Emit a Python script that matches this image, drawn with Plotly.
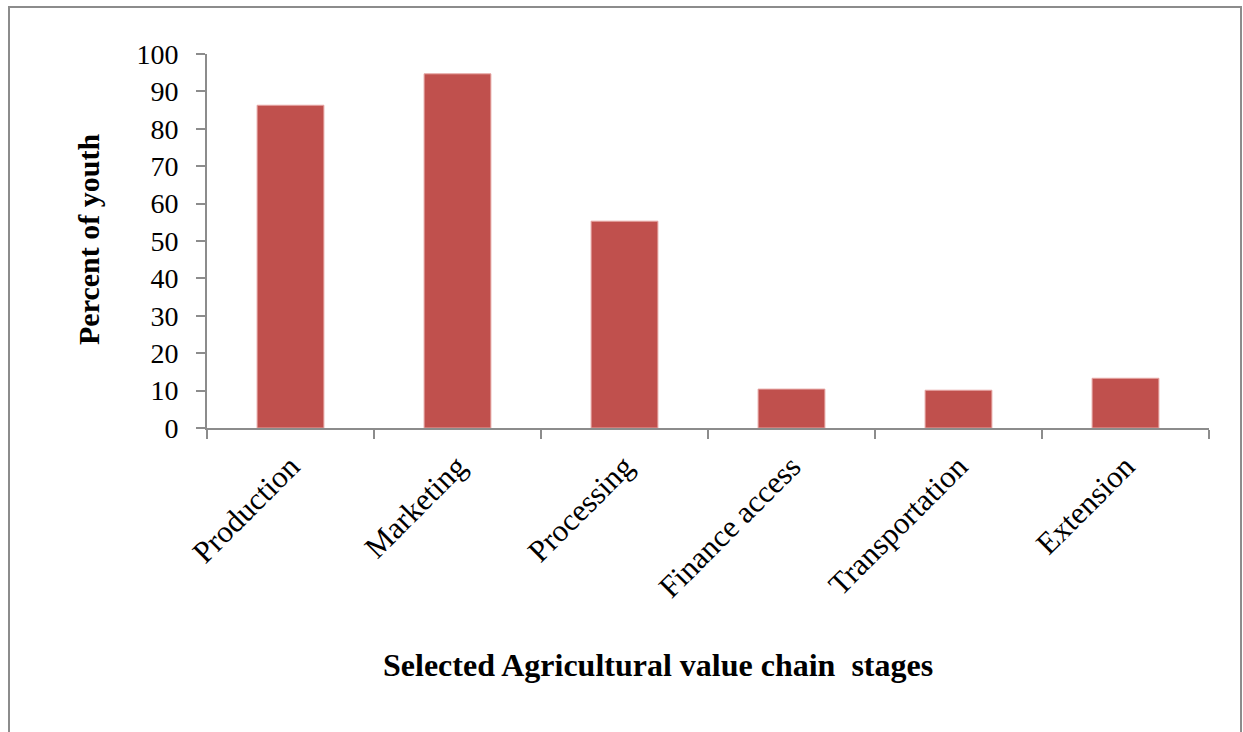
import plotly.graph_objects as go

# Share of youth engaged at each stage of the agricultural value chain
stages = ["Production", "Marketing", "Processing", "Finance access",
          "Transportation", "Extension"]
percent_youth = [86.3, 94.7, 55.3, 10.4, 10.1, 13.3]
y_ticks = [0, 10, 20, 30, 40, 50, 60, 70, 80, 90, 100]

W, H = 1243, 732
L, R, T, B = 207, 34, 54, 304
pw, ph = W - L - R, H - T - B


def px_x(p):
    return (p - L) / pw


def px_y(p):
    return (H - B - p) / ph


serif = "Liberation Serif, Times New Roman, serif"
axis_grey = "#8c8c8c"

fig = go.Figure(go.Bar(
    x=stages,
    y=percent_youth,
    marker=dict(color="#c0504d", line=dict(color="#e6a6a4", width=1)),
    width=0.4,
))

fig.update_layout(
    width=W, height=H,
    margin=dict(l=L, r=R, t=T, b=B, pad=0),
    paper_bgcolor="white", plot_bgcolor="white",
    showlegend=False,
    font=dict(family=serif, color="black"),
    bargap=0.6,
    xaxis=dict(
        type="category",
        tickangle=-45,
        tickfont=dict(family=serif, size=31, color="black"),
        showline=True, linecolor=axis_grey, linewidth=2,
        ticks="outside", ticklen=9, tickcolor=axis_grey, tickwidth=2,
        tickson="boundaries", ticklabelstandoff=6,
        showgrid=False, zeroline=False,
    ),
    yaxis=dict(
        range=[0, 100],
        tickvals=y_ticks,
        tickfont=dict(family=serif, size=28, color="black"),
        showline=True, linecolor=axis_grey, linewidth=2,
        ticks="outside", ticklen=9, tickcolor=axis_grey, tickwidth=2,
        ticklabelstandoff=12,
        showgrid=False, zeroline=False,
    ),
    shapes=[dict(
        type="rect", xref="paper", yref="paper",
        x0=px_x(9), x1=px_x(1241), y0=px_y(745), y1=px_y(7),
        line=dict(color="#8c8c8c", width=2), fillcolor="rgba(0,0,0,0)",
        layer="below",
    )],
    annotations=[
        dict(text="<b>Percent of youth</b>", textangle=-90,
             xref="paper", yref="paper", x=px_x(88), y=px_y(240),
             xanchor="center", yanchor="middle", showarrow=False,
             font=dict(family=serif, size=30, color="black")),
        dict(text="<b>Selected Agricultural value chain  stages</b>",
             xref="paper", yref="paper", x=px_x(658), y=px_y(665),
             xanchor="center", yanchor="middle", showarrow=False,
             font=dict(family=serif, size=32, color="black")),
    ],
)

fig.write_html("out.html")
